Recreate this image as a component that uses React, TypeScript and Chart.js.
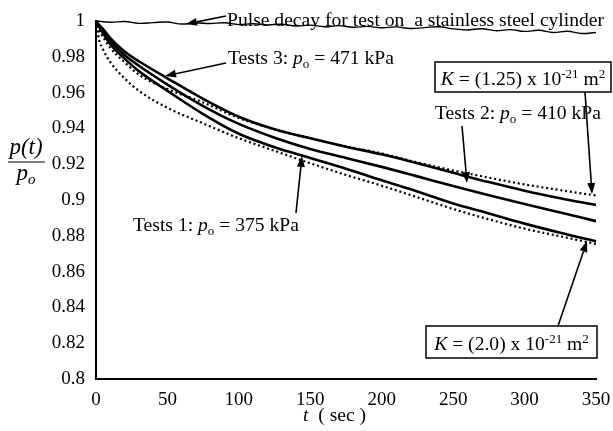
import React, { useEffect, useRef } from "react";
import { Chart, registerables } from "chart.js";

Chart.register(...registerables);

// ---- data ----
const times = [0, 2, 5, 10, 20, 30, 50, 75, 100, 125, 150, 175, 200, 225, 250, 275, 300, 325, 350];
const test3 = [1.0, 0.998, 0.9955, 0.9905, 0.983, 0.9775, 0.968, 0.9565, 0.9465, 0.9395, 0.9345, 0.9298, 0.9255, 0.9205, 0.9152, 0.9100, 0.9052, 0.9010, 0.8972];
const test2 = [1.0, 0.9975, 0.995, 0.989, 0.981, 0.975, 0.9645, 0.9525, 0.9425, 0.9348, 0.9285, 0.9235, 0.9185, 0.9132, 0.9078, 0.9027, 0.8978, 0.8930, 0.8882];
const test1 = [1.0, 0.997, 0.993, 0.987, 0.979, 0.972, 0.961, 0.948, 0.937, 0.9295, 0.9235, 0.9175, 0.911, 0.9048, 0.898, 0.8925, 0.8868, 0.8817, 0.877];
const fitK125 = [1.0, 0.995, 0.991, 0.985, 0.977, 0.970, 0.962, 0.9545, 0.9458, 0.9395, 0.9345, 0.930, 0.926, 0.921, 0.9165, 0.9125, 0.9087, 0.9055, 0.9025];
const fitK20 = [1.0, 0.990, 0.984, 0.977, 0.968, 0.961, 0.9515, 0.9428, 0.9345, 0.9275, 0.9205, 0.914, 0.908, 0.9015, 0.895, 0.8892, 0.884, 0.8797, 0.8755];

const pulseT = [0, 10, 20, 30, 40, 50, 60, 70, 80, 90, 100, 110, 120, 130, 140, 150, 160, 170, 180, 190, 200, 210, 220, 230, 240, 250, 260, 270, 280, 290, 300, 310, 320, 330, 340, 350];
const pulseV = [1.0, 0.9993, 0.9997, 0.9987, 0.9991, 0.9994, 0.9983, 0.9989, 0.9986, 0.999, 0.998, 0.9985, 0.9978, 0.9982, 0.9972, 0.9977, 0.9968, 0.9974, 0.9965, 0.997, 0.9962, 0.9967, 0.9958, 0.9963, 0.9968, 0.9956, 0.995, 0.9957, 0.9946, 0.9952, 0.9942, 0.9948, 0.9936, 0.9943, 0.993, 0.9936];

const xMin = 0, xMax = 350, xStep = 50;
const yMin = 0.8, yMax = 1.0, yStep = 0.02;

const SERIF = '"Liberation Serif", "Times New Roman", serif';

type Run = { t: string; f: string; dy?: number };

function runsWidth(ctx: CanvasRenderingContext2D, runs: Run[]) {
  let w = 0;
  for (const r of runs) { ctx.font = r.f; w += ctx.measureText(r.t).width; }
  return w;
}
function drawRuns(ctx: CanvasRenderingContext2D, runs: Run[], x: number, y: number) {
  let cx = x;
  for (const r of runs) {
    ctx.font = r.f;
    ctx.fillText(r.t, cx, y + (r.dy || 0));
    cx += ctx.measureText(r.t).width;
  }
  return cx;
}
function arrow(ctx: CanvasRenderingContext2D, x1: number, y1: number, x2: number, y2: number) {
  const a = Math.atan2(y2 - y1, x2 - x1);
  const hl = 11, hw = 4;
  const bx = x2 - hl * Math.cos(a), by = y2 - hl * Math.sin(a);
  ctx.beginPath();
  ctx.moveTo(x1, y1);
  ctx.lineTo(bx, by);
  ctx.lineWidth = 1.6;
  ctx.stroke();
  ctx.beginPath();
  ctx.moveTo(x2, y2);
  ctx.lineTo(bx + hw * Math.sin(a), by - hw * Math.cos(a));
  ctx.lineTo(bx - hw * Math.sin(a), by + hw * Math.cos(a));
  ctx.closePath();
  ctx.fill();
}

const annotPlugin = {
  id: "annot",
  afterDraw(chart: any) {
    const ctx: CanvasRenderingContext2D = chart.ctx;
    ctx.save();
    ctx.fillStyle = "#000";
    ctx.strokeStyle = "#000";
    ctx.textBaseline = "alphabetic";
    ctx.textAlign = "left";
    const N = `19.6px ${SERIF}`;
    const I = `italic 19.6px ${SERIF}`;
    const S = `13px ${SERIF}`;

    // y-axis title: p(t) / p_o
    const YT = `italic 23px ${SERIF}`;
    ctx.font = YT;
    const w1 = ctx.measureText("p(t)").width;
    ctx.fillText("p(t)", 26 - w1 / 2, 154);
    ctx.beginPath();
    ctx.moveTo(8, 162);
    ctx.lineTo(45, 162);
    ctx.lineWidth = 1.2;
    ctx.stroke();
    const poRuns: Run[] = [{ t: "p", f: YT }, { t: "o", f: `italic 15px ${SERIF}`, dy: 4 }];
    const pw = runsWidth(ctx, poRuns);
    drawRuns(ctx, poRuns, 26 - pw / 2, 180);

    // x-axis title
    drawRuns(ctx, [{ t: "t", f: I }, { t: "  ( sec )", f: N }], 303, 421);

    // annotations
    drawRuns(ctx, [{ t: "Pulse decay for test on  a stainless steel cylinder", f: N }], 227, 26);
    arrow(ctx, 226, 16, 186, 24);

    drawRuns(ctx, [{ t: "Tests 3: ", f: N }, { t: "p", f: I }, { t: "o", f: S, dy: 4 }, { t: " = 471 kPa", f: N }], 228, 64);
    arrow(ctx, 226, 63, 165, 76);

    drawRuns(ctx, [{ t: "Tests 2: ", f: N }, { t: "p", f: I }, { t: "o", f: S, dy: 4 }, { t: " = 410 kPa", f: N }], 435, 119);
    arrow(ctx, 462, 126, 467, 183);

    drawRuns(ctx, [{ t: "Tests 1: ", f: N }, { t: "p", f: I }, { t: "o", f: S, dy: 4 }, { t: " = 375 kPa", f: N }], 133, 231);
    arrow(ctx, 296, 213, 302, 156);

    // boxes
    const box = (x0: number, y0: number, x1: number, y1: number, runs: Run[], base: number) => {
      ctx.lineWidth = 1.5;
      ctx.fillStyle = "#fff";
      ctx.fillRect(x0, y0, x1 - x0, y1 - y0);
      ctx.strokeRect(x0, y0, x1 - x0, y1 - y0);
      ctx.fillStyle = "#000";
      const w = runsWidth(ctx, runs);
      drawRuns(ctx, runs, (x0 + x1) / 2 - w / 2, base);
    };
    box(435, 62, 611, 92, [
      { t: "K", f: I }, { t: " = (1.25) x 10", f: N }, { t: "-21", f: S, dy: -7 }, { t: " m", f: N }, { t: "2", f: S, dy: -7 },
    ], 85);
    arrow(ctx, 585, 92, 592, 194);

    box(426, 326, 597, 358, [
      { t: "K", f: I }, { t: " = (2.0) x 10", f: N }, { t: "-21", f: S, dy: -7 }, { t: " m", f: N }, { t: "2", f: S, dy: -7 },
    ], 350);
    arrow(ctx, 558, 326, 587, 241);

    ctx.restore();
  },
};

function pts(xs: number[], ys: number[]) {
  return xs.map((x, i) => ({ x, y: ys[i] }));
}

export default function App() {
  const ref = useRef<HTMLCanvasElement>(null);
  useEffect(() => {
    if (!ref.current) return;
    const solid = (label: string, data: number[]) => ({
      label,
      data: pts(times, data),
      borderColor: "#000",
      borderWidth: 2.6,
      pointRadius: 0,
      cubicInterpolationMode: "monotone" as const,
      clip: 4,
    });
    const dotted = (label: string, data: number[]) => ({
      label,
      data: pts(times, data),
      borderColor: "#000",
      borderWidth: 2.2,
      borderDash: [2, 2.8],
      pointRadius: 0,
      cubicInterpolationMode: "monotone" as const,
      clip: 4,
    });
    const chart = new Chart(ref.current, {
      type: "line",
      data: {
        datasets: [
          {
            label: "Pulse decay",
            data: pts(pulseT, pulseV),
            borderColor: "#000",
            borderWidth: 1.4,
            pointRadius: 0,
            tension: 0.4,
            clip: 4,
          } as any,
          solid("Tests 3", test3),
          solid("Tests 2", test2),
          solid("Tests 1", test1),
          dotted("K=1.25", fitK125),
          dotted("K=2.0", fitK20),
        ],
      },
      options: {
        responsive: false,
        animation: false,
        layout: { padding: { left: 0, right: 17, top: 21, bottom: 0 } },
        plugins: { legend: { display: false }, tooltip: { enabled: false } },
        scales: {
          x: {
            type: "linear",
            min: xMin,
            max: xMax,
            ticks: {
              stepSize: xStep,
              color: "#000",
              font: { family: SERIF, size: 19 },
              padding: 10,
              maxRotation: 0,
            },
            grid: { display: false, drawTicks: false },
            border: { display: true, color: "#000", width: 2 },
            afterFit: (s: any) => { s.height = 52; s.paddingLeft = 0; s.paddingRight = 0; },
          },
          y: {
            type: "linear",
            min: yMin,
            max: yMax,
            ticks: {
              stepSize: yStep,
              color: "#000",
              font: { family: SERIF, size: 19 },
              padding: 11,
              callback: (v: any) => String(parseFloat(Number(v).toFixed(2))),
            },
            grid: { display: false, drawTicks: false },
            border: { display: true, color: "#000", width: 2 },
            afterFit: (s: any) => { s.width = 96; s.paddingTop = 0; s.paddingBottom = 0; },
          },
        },
      },
      plugins: [annotPlugin],
    });
    return () => chart.destroy();
  }, []);
  return (
    <div style={{ position: "absolute", left: 0, top: 0, width: 613, height: 431, background: "#fff" }}>
      <canvas ref={ref} width={613} height={431} style={{ display: "block" }} />
    </div>
  );
}
